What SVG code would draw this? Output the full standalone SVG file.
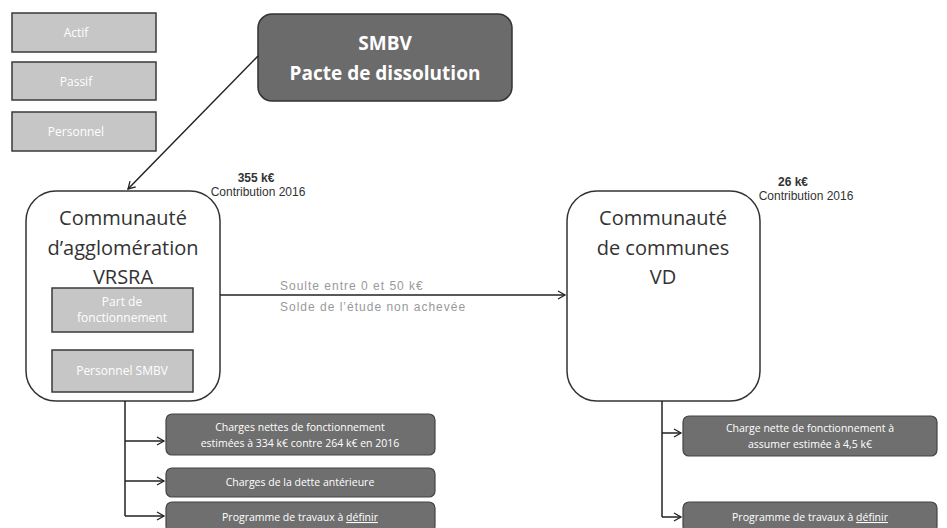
<svg xmlns="http://www.w3.org/2000/svg" width="947" height="528" viewBox="0 0 947 528">
<style>
.lbox{fill:#c6c6c6;stroke:#3a3a3a;stroke-width:1.5}
.ltxt{font-family:"Open Sans","DejaVu Sans",sans-serif;font-size:12px;fill:#ffffff;text-anchor:middle}
.big{fill:#ffffff;stroke:#333;stroke-width:1.5}
.btxt{font-family:"Open Sans","DejaVu Sans",sans-serif;font-size:20px;fill:#333;text-anchor:middle}
.dbox{fill:#6f6f6f;stroke:#444;stroke-width:1.2}
.dtxt{font-family:"Open Sans","DejaVu Sans",sans-serif;font-size:10.5px;fill:#ffffff;text-anchor:middle}
.small{font-family:"Liberation Sans",Arial,sans-serif;font-size:12px;fill:#333;text-anchor:middle}
.conn{fill:none;stroke:#222;stroke-width:1.5}
.gtxt{font-family:"Liberation Sans",Arial,sans-serif;font-size:12px;fill:#999;letter-spacing:1px}
</style>
<defs>
<marker id="ah" markerWidth="10" markerHeight="10" refX="8" refY="5" orient="auto" markerUnits="userSpaceOnUse">
<path d="M1,1 L8,5 L1,9" fill="none" stroke="#222" stroke-width="1.3"/>
</marker>
</defs>

<g id="actif"><rect class="lbox" x="12" y="13" width="144" height="39"/><text class="ltxt" x="76" y="37">Actif</text></g>
<g id="passif"><rect class="lbox" x="12" y="62" width="144" height="38"/><text class="ltxt" x="76" y="86">Passif</text></g>
<g id="personnel"><rect class="lbox" x="12" y="112" width="144" height="39"/><text class="ltxt" x="76" y="136">Personnel</text></g>

<g id="smbv">
<rect x="258" y="14" width="254" height="87" rx="14" fill="#6b6b6b" stroke="#333" stroke-width="1.5"/>
<text x="385" y="50" font-family="'Open Sans','DejaVu Sans',sans-serif" font-size="19" font-weight="bold" fill="#fff" text-anchor="middle">SMBV</text>
<text x="385" y="80" font-family="'Open Sans','DejaVu Sans',sans-serif" font-size="19" font-weight="bold" fill="#fff" text-anchor="middle">Pacte de dissolution</text>
</g>

<g id="vrsra">
<rect class="big" x="26" y="191" width="194" height="210" rx="30"/>
<text class="btxt" x="123" y="225">Communauté</text>
<text class="btxt" x="123" y="255">d’agglomération</text>
<text class="btxt" x="123" y="284">VRSRA</text>
<rect class="lbox" x="52" y="288" width="141" height="44"/>
<text class="ltxt" x="122" y="306" font-size="10">Part de</text>
<text class="ltxt" x="122" y="322" font-size="10">fonctionnement</text>
<rect class="lbox" x="52" y="350" width="141" height="42"/>
<text class="ltxt" x="122" y="375" font-size="10">Personnel SMBV</text>
<text class="small" x="256" y="182" font-weight="bold">355 k€</text>
<text class="small" x="258" y="196">Contribution 2016</text>
</g>

<g id="vd">
<rect class="big" x="567" y="191" width="193" height="210" rx="30"/>
<text class="btxt" x="663" y="225">Communauté</text>
<text class="btxt" x="663" y="255">de communes</text>
<text class="btxt" x="663" y="284">VD</text>
<text class="small" x="793" y="186" font-weight="bold">26 k€</text>
<text class="small" x="806" y="200">Contribution 2016</text>
</g>

<g id="charges-vrsra-1"><rect class="dbox" x="166" y="414" width="269" height="41" rx="6"/>
<text class="dtxt" x="300" y="431">Charges nettes de fonctionnement</text>
<text class="dtxt" x="300" y="447">estimées à 334 k€ contre 264 k€ en 2016</text></g>
<g id="charges-vrsra-2"><rect class="dbox" x="166" y="468" width="269" height="29" rx="6"/>
<text class="dtxt" x="300" y="486">Charges de la dette antérieure</text></g>
<g id="travaux-vrsra"><rect class="dbox" x="166" y="502" width="269" height="30" rx="6"/>
<text class="dtxt" x="300" y="521">Programme de travaux à <tspan text-decoration="underline">définir</tspan></text></g>

<g id="charges-vd"><rect class="dbox" x="683" y="416" width="254" height="40" rx="6"/>
<text class="dtxt" x="810" y="432">Charge nette de fonctionnement à</text>
<text class="dtxt" x="810" y="448">assumer estimée à 4,5 k€</text></g>
<g id="travaux-vd"><rect class="dbox" x="683" y="502" width="254" height="30" rx="6"/>
<text class="dtxt" x="810" y="521">Programme de travaux à <tspan text-decoration="underline">définir</tspan></text></g>

<g id="connectors">
<line class="conn" x1="258" y1="56" x2="128" y2="189" marker-end="url(#ah)"/>
<line class="conn" x1="220" y1="295" x2="565" y2="295" marker-end="url(#ah)"/>
<text class="gtxt" x="280" y="290">Soulte entre 0 et 50 k€</text>
<text class="gtxt" x="280" y="311">Solde de l’étude non achevée</text>
<polyline class="conn" points="125,401 125,516"/>
<line class="conn" x1="125" y1="441" x2="164" y2="441" marker-end="url(#ah)"/>
<line class="conn" x1="125" y1="481" x2="164" y2="481" marker-end="url(#ah)"/>
<line class="conn" x1="125" y1="516" x2="164" y2="516" marker-end="url(#ah)"/>
<polyline class="conn" points="662,401 662,517"/>
<line class="conn" x1="662" y1="433" x2="681" y2="433" marker-end="url(#ah)"/>
<line class="conn" x1="662" y1="517" x2="681" y2="517" marker-end="url(#ah)"/>
</g>
</svg>
